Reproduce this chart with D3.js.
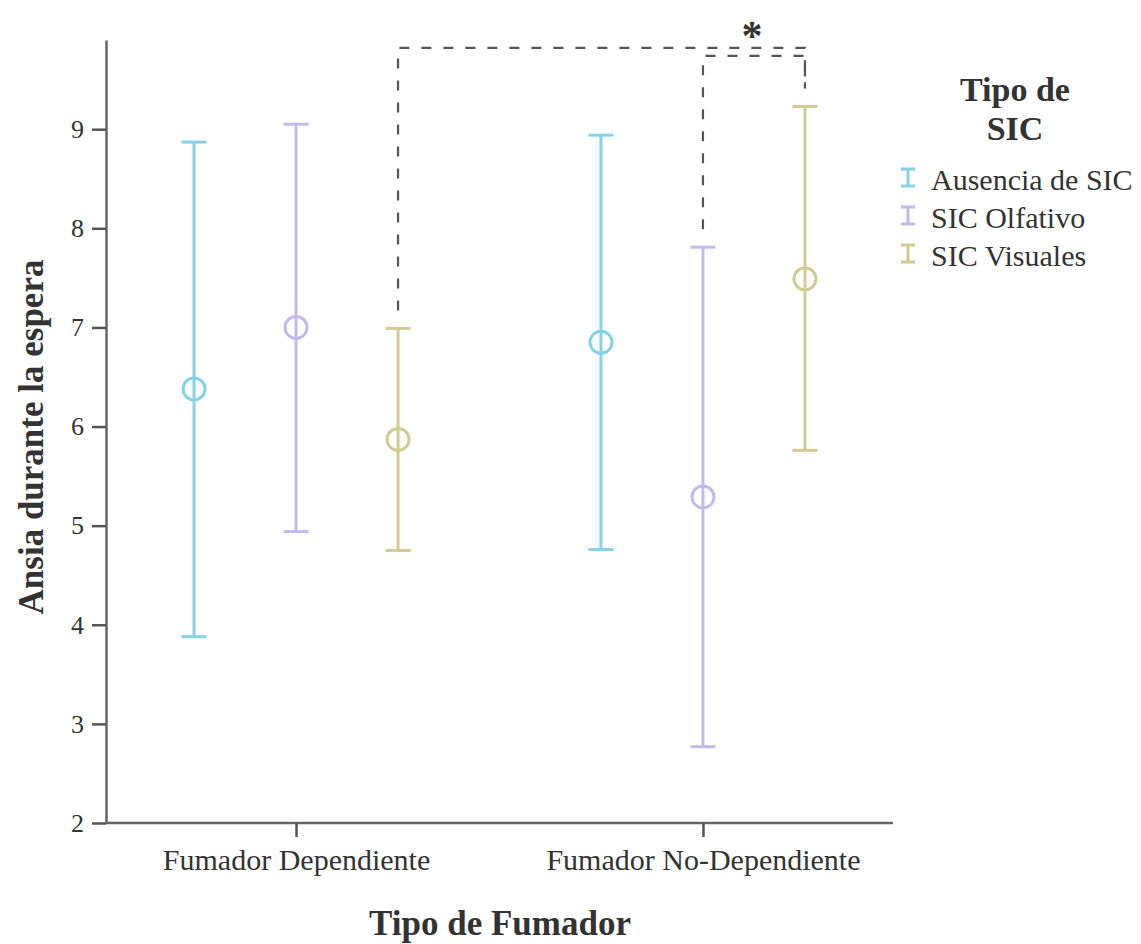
<!DOCTYPE html>
<html>
<head>
<meta charset="utf-8">
<script src="https://cdn.jsdelivr.net/npm/d3@7"></script>
<style>
  html, body { margin: 0; padding: 0; background: #ffffff; }
  svg { display: block; }
  text { font-family: "Liberation Serif", "Times New Roman", serif; fill: #333; }
</style>
</head>
<body>
<svg id="chart" width="1141" height="944"></svg>
<script>
// ---- data ----
const categories = ["Fumador Dependiente", "Fumador No-Dependiente"];
const seriesNames = ["Ausencia de SIC", "SIC Olfativo", "SIC Visuales"];
const seriesColors = ["#86d2e6", "#c4b9ec", "#d0cc92"];
// mean, lower, upper per category for each series
const ausenciaMean = [6.38, 6.85];
const ausenciaLow  = [3.88, 4.76];
const ausenciaHigh = [8.87, 8.94];
const olfativoMean = [7.00, 5.29];
const olfativoLow  = [4.94, 2.77];
const olfativoHigh = [9.05, 7.81];
const visualesMean = [5.87, 7.49];
const visualesLow  = [4.75, 5.76];
const visualesHigh = [6.99, 9.23];
const yTicks = [2, 3, 4, 5, 6, 7, 8, 9];
const yTitle = "Ansia durante la espera";
const xTitle = "Tipo de Fumador";
const legendTitle = ["Tipo de", "SIC"];
// significance brackets: [category, series] endpoints with heights (values)
const sigBrackets = [
  { from: [0, 2], to: [1, 2], yFrom: 7.17, yTop: 9.82, yTo: 9.41 },
  { from: [1, 1], to: [1, 2], yFrom: 7.99, yTop: 9.74, yTo: 9.41 }
];
const sigLabel = "*";

const seriesData = [
  { mean: ausenciaMean, low: ausenciaLow, high: ausenciaHigh },
  { mean: olfativoMean, low: olfativoLow, high: olfativoHigh },
  { mean: visualesMean, low: visualesLow, high: visualesHigh }
];

const svg = d3.select("#chart");
const axisX0 = 106, axisX1 = 893, axisY = 823, axisTop = 40;

const x = d3.scalePoint().domain(categories).range([axisX0, axisX1]).padding(0.467);
const xs = d3.scalePoint().domain(seriesNames).range([-102, 102]);
const y = d3.scaleLinear().domain([2, 9.9]).range([axisY, axisTop]);
const color = d3.scaleOrdinal().domain(seriesNames).range(seriesColors);

const px = (ci, si) => x(categories[ci]) + xs(seriesNames[si]);

// axes
const yAxis = d3.axisLeft(y).tickValues(yTicks).tickSize(14).tickSizeOuter(0).tickPadding(8).tickFormat(d3.format("d"));
const gy = svg.append("g").attr("transform", `translate(${axisX0},0)`).call(yAxis);
gy.select(".domain").attr("stroke", "#666").attr("stroke-width", 2.5);
gy.selectAll(".tick line").attr("stroke", "#555").attr("stroke-width", 2.5);
gy.selectAll(".tick text").style("font-family", "Liberation Serif").style("font-size", "26px").attr("fill", "#333");

const xAxis = d3.axisBottom(x).tickSize(14).tickSizeOuter(0).tickPadding(12);
const gx = svg.append("g").attr("transform", `translate(0,${axisY})`).call(xAxis);
gx.select(".domain").attr("d", `M${axisX0},0H${axisX1}`).attr("stroke", "#666").attr("stroke-width", 2.5);
gx.selectAll(".tick line").attr("stroke", "#555").attr("stroke-width", 2.5);
gx.selectAll(".tick text").style("font-family", "Liberation Serif").style("font-size", "30px").attr("fill", "#333");

// titles
svg.append("text").attr("x", 500).attr("y", 935).attr("text-anchor", "middle")
  .style("font-size", "35px").style("font-weight", "bold").attr("fill", "#333").text(xTitle);
svg.append("text").attr("transform", "translate(43,437) rotate(-90)").attr("text-anchor", "middle")
  .style("font-size", "35px").style("font-weight", "bold").attr("fill", "#333").text(yTitle);

// error bars
const capHalf = 12.5;
seriesData.forEach((s, si) => {
  const g = svg.append("g");
  categories.forEach((c, ci) => {
    const cx = px(ci, si);
    const col = color(seriesNames[si]);
    g.append("line").attr("x1", cx).attr("x2", cx).attr("y1", y(s.low[ci])).attr("y2", y(s.high[ci]))
      .attr("stroke", col).attr("stroke-width", 3);
    [s.low[ci], s.high[ci]].forEach(v => {
      g.append("line").attr("x1", cx - capHalf).attr("x2", cx + capHalf).attr("y1", y(v)).attr("y2", y(v))
        .attr("stroke", col).attr("stroke-width", 3);
    });
    g.append("circle").attr("cx", cx).attr("cy", y(s.mean[ci])).attr("r", 11)
      .attr("fill", "none").attr("stroke", col).attr("stroke-width", 3);
  });
});

// significance brackets
sigBrackets.forEach(b => {
  const x1 = px(b.from[0], b.from[1]);
  const x2 = px(b.to[0], b.to[1]);
  svg.append("path")
    .attr("d", `M${x1},${y(b.yFrom)}V${y(b.yTop)}H${x2}V${y(b.yTo)}`)
    .attr("fill", "none").attr("stroke", "#555").attr("stroke-width", 2.2)
    .attr("stroke-dasharray", "10,12");
});
svg.append("text").attr("x", 752).attr("y", 50).attr("text-anchor", "middle")
  .style("font-size", "42px").style("font-weight", "bold").attr("fill", "#333").text(sigLabel);

// legend
const lg = svg.append("g");
legendTitle.forEach((t, i) => {
  lg.append("text").attr("x", 1015).attr("y", 101 + i * 39).attr("text-anchor", "middle")
    .style("font-size", "34px").style("font-weight", "bold").attr("fill", "#222").text(t);
});
seriesNames.forEach((n, i) => {
  const yy = 190 + i * 38;
  const col = color(n);
  const ix = 908;
  lg.append("path").attr("d", `M${ix - 7},${yy - 21}H${ix + 7}M${ix},${yy - 21}V${yy - 4}M${ix - 7},${yy - 4}H${ix + 7}`)
    .attr("stroke", col).attr("stroke-width", 3).attr("fill", "none");
  lg.append("text").attr("x", 931).attr("y", yy).style("font-size", "30px").attr("fill", "#333").text(n);
});
</script>
</body>
</html>
